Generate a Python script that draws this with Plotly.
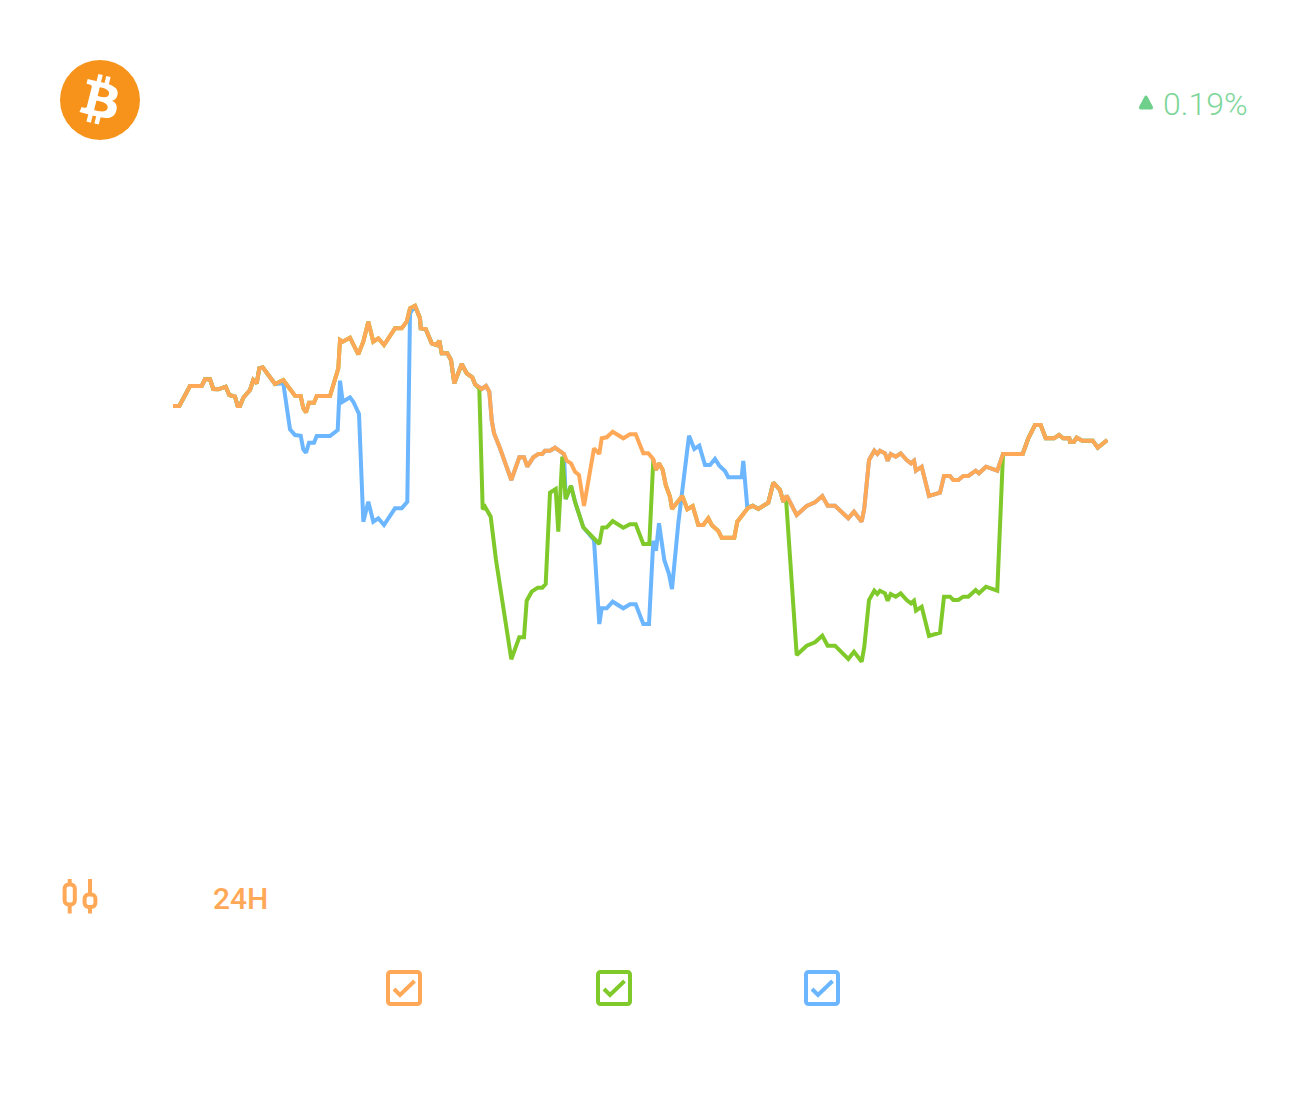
import re
import plotly.graph_objects as go

W, H = 1308, 1094

# Values: sample position along the day and index level
orange_x = [0,6.3,17,28.7,32,37,40.3,45.3,52.7,56.3,62,64.7,67,70.3,77,80.3,83.7,86.3,89.7,102,110.3,122,127.7,130.3,133,136,141,143.7,157,165.3,167,169.7,177,185.3,190.3,195.3,200.3,205.3,211,222,228.7,233.7,237,242,247,247.7,252.7,258.7,263.7,266.3,268.7,274.3,278,281.3,288.7,293.7,299.3,302,308.7,313,316.3,318.7,321,327,338.3,346.3,351,354.3,360.3,365.3,369.3,372,377,382,391,393.7,398,402,406,411,421,426.3,428.7,433.7,439.7,450.3,457,462.7,470.3,475.3,480.3,483,486,489.7,492.7,497,499,509.3,514.3,519.7,525.3,530.3,535.3,538.7,545.3,548.7,561.3,564.3,574.7,579.7,585.3,595.3,600.3,607,610.3,613.7,623.7,633.7,642,649.3,654.7,662,675.3,681,688.7,691.3,696,701.3,704.3,707,712,714.7,717.7,722.7,727.7,733.7,738,741,743,748.7,756,767,771,777,780.3,785.3,790.3,795.3,802.7,806,813,824.3,830,849.7,855.3,862,867.7,872.7,881,886,890.3,896.3,897,901,903.7,909.3,919.7,924.7,934.3]
orange_v = [294,294,314,314,320.7,320.7,311,310.7,313.3,305,303.3,294,294,302.3,310,320,316.7,331.7,332.7,316,320,304.3,304,291.7,287.7,297.3,297.3,304,304,331.7,360,358.3,362.3,345.7,358.3,378.3,358.3,361.7,355,371.7,371.7,378.3,391.7,394.3,381.7,371.7,371,356.7,355,359.3,346.7,346.7,340,316.7,336,326.7,322.7,315.7,311,314,308.3,280,266.7,251.7,220,242.7,242.7,233.3,242.7,246,246,249.3,249.3,252.3,246,239.3,236.7,228.3,225,194,251.7,246,261.7,262.7,268.3,261.7,265.7,265.7,246.7,246.7,240.7,230,236.7,230,215,203.3,191,204,190.7,194,175,175,181.7,175,169,162.3,162.3,178.3,191.7,194.3,191,197.3,217.3,210,198.3,204.3,185,194,197.7,204,194.3,194.3,181.7,188.3,178.3,191.7,240,249.3,246,249.3,246.7,239.3,246,243.3,246.7,240,236.7,239.3,229.3,233.3,204,207.3,224,224,220,220,224,224,229.3,226.7,233.3,229.3,246,246,261.7,275,275,261.7,261.7,265,261.7,261.7,258.3,258.3,262.3,259.3,259.3,252.3,260]

green_low1_x = [306.3,309.7,312,317.7,323,338.3,346.3,351,353.7,358.7,364.7,369.3,372.7,377,382.7,385.3,389.3,392.7,398,402,410.3,426.3,429.3,433.7,439.7,450.3,457,462.7,470.3,476.3,480.3]
green_low1_v = [311,190.7,193.3,183.3,140,40.7,62.7,62.7,99.3,108.3,112.3,112.3,116,207.3,211,168.3,243.3,201,214.3,198.3,172.7,156,172.3,172.7,179,172.3,175.7,175.7,156,156,240]
green_low2_x = [613,623.7,633.7,642,649.3,654.7,662,675.3,681,688.7,691.3,696,701.3,704.3,707,712,714.7,717.7,722.7,727.7,733.7,738,741,743,748.7,756,767,771,777,780.3,785.3,790.3,795.3,802.7,806,813,824.3]
green_low2_v = [201.7,45,54.3,57.7,64.3,54.3,54.3,41,48.3,38.3,53.3,100,109.3,106,109.3,106.7,99.3,106,103.3,106.7,100,96.7,99.3,89.3,93.3,64,67.3,103.3,103.3,100,100,103.3,103.3,110,106.7,113.3,109.3]

blue_low1_x = [110.3,117,122,127.7,130.3,133,136,141,143.7,157,164.7,167,169.7,177,180.3,186,190.3,195.3,200.3,205.3,211,222,228.7,234.3,237]
blue_low1_v = [316.7,270.7,265,264.3,250.7,247.3,257.3,257.3,264,264,270,319.3,298.3,302.7,298.3,286,178.3,198.3,178.3,181.7,175,191.7,191.7,198.3,386.7]
blue_low2_x = [421,426.3,428.7,433.7,439.7,450.3,457,462.7,470.3,476,480.3,483,486,491.3,496,499,505.3,516,521.3,526.3,532,537,542,546.3,552,555.3,568.7,570.3,574.3]
blue_low2_v = [160,76,91.7,91.7,98.3,91.7,95.7,95.7,76,76,159.3,149.3,176.7,140,126,111,176.7,264.3,251,254.3,235,235,241,234.3,229,222.7,222.7,239,192.7]

ORANGE, GREEN, BLUE = "#FFA958", "#7FC92A", "#6BB6FF"
CHANGE_COLOR, ARROW_COLOR = "#7ED69A", "#6FD08C"


def part(xs, vs, lo, hi):
    kept = [(x, v) for x, v in zip(xs, vs) if lo <= x <= hi]
    return [k[0] for k in kept], [k[1] for k in kept]


def join(*parts):
    out_x, out_v = [], []
    for xs, vs in parts:
        out_x += list(xs)
        out_v += list(vs)
    return out_x, out_v


inf = 1e9
green_x, green_v = join(
    part(orange_x, orange_v, -inf, 302),
    (green_low1_x, green_low1_v),
    part(orange_x, orange_v, 482, 610.5),
    (green_low2_x, green_low2_v),
    part(orange_x, orange_v, 830, inf),
)
blue_x, blue_v = join(
    part(orange_x, orange_v, -inf, 102),
    (blue_low1_x, blue_low1_v),
    part(orange_x, orange_v, 242, 391),
    part(green_x, green_v, 392, 411),
    (blue_low2_x, blue_low2_v),
    part(orange_x, orange_v, 579, inf),
)


def px(x):
    return x / W


def py(y):
    return 1 - y / H


def P(x, y):
    return f"{px(x):.5f},{py(y):.5f}"


def abs_path(d, scale, ox, oy):
    toks = re.findall(r"[A-Za-z]|-?\d*\.?\d+", d)
    i, cx, cy, sx, sy, out = 0, 0.0, 0.0, 0.0, 0.0, []

    def T(a, b):
        return P(ox + a * scale, oy + b * scale)

    cmd = None
    while i < len(toks):
        if toks[i].isalpha():
            cmd = toks[i]
            i += 1
            if cmd in "zZ":
                out.append("Z")
                cx, cy = sx, sy
                continue
        rel = cmd.islower()
        c = cmd.upper()
        n = {"M": 2, "L": 2, "H": 1, "V": 1, "C": 6, "S": 4}[c]
        a = [float(t) for t in toks[i:i + n]]
        i += n
        if c == "H":
            cx = cx + a[0] if rel else a[0]
            out.append("L" + T(cx, cy))
        elif c == "V":
            cy = cy + a[0] if rel else a[0]
            out.append("L" + T(cx, cy))
        else:
            pts = []
            for k in range(0, n, 2):
                pts.append((a[k] + cx, a[k + 1] + cy) if rel else (a[k], a[k + 1]))
            out.append(c + " ".join(T(*p) for p in pts))
            cx, cy = pts[-1]
            if c == "M":
                sx, sy = cx, cy
                cmd = "l" if rel else "L"
    return " ".join(out)


BTC = ("M46.11 27.441c.636-4.258-2.606-6.547-7.039-8.074l1.438-5.768-3.512-.875-1.4 5.616c-.922-.23-1.87-.447-2.812-.662"
       "l1.41-5.653-3.509-.875-1.439 5.766c-.764-.174-1.514-.346-2.242-.527l.004-.018-4.842-1.209-.934 3.75s2.605.597 2.55.634"
       "c1.422.355 1.68 1.296 1.636 2.042l-1.638 6.571c.098.025.225.061.365.117l-.371-.092-2.296 9.205c-.174.432-.615 1.08-1.609.834"
       ".035.051-2.552-.637-2.552-.637l-1.743 4.019 4.569 1.139c.85.213 1.683.436 2.503.646l-1.453 5.834 3.507.875 1.439-5.772"
       "c.958.26 1.888.5 2.798.726l-1.434 5.745 3.511.875 1.453-5.823c5.987 1.133 10.489.676 12.384-4.739 1.527-4.36-.076-6.875-3.226-8.515"
       " 2.294-.529 4.022-2.038 4.483-5.155zM38.087 38.69c-1.085 4.36-8.426 2.003-10.806 1.412l1.928-7.729c2.38.594 10.012 1.77 8.878 6.317z"
       "m1.086-11.312c-.99 3.966-7.1 1.951-9.082 1.457l1.748-7.01c1.982.494 8.365 1.416 7.334 5.553z")


def rrect(x0, y0, x1, y1, r):
    k = r * 0.45
    return (f"M{P(x0 + r, y0)} L{P(x1 - r, y0)} C{P(x1 - k, y0)} {P(x1, y0 + k)} {P(x1, y0 + r)} "
            f"L{P(x1, y1 - r)} C{P(x1, y1 - k)} {P(x1 - k, y1)} {P(x1 - r, y1)} "
            f"L{P(x0 + r, y1)} C{P(x0 + k, y1)} {P(x0, y1 - k)} {P(x0, y1 - r)} "
            f"L{P(x0, y0 + r)} C{P(x0, y0 + k)} {P(x0 + k, y0)} {P(x0 + r, y0)} Z")


def shape(path, fill=None, color=None, width=0):
    d = dict(type="path", xref="paper", yref="paper", path=path, layer="above",
             line=dict(width=width, color=color or "rgba(0,0,0,0)"))
    if fill:
        d["fillcolor"] = fill
    return d


shapes = [
    dict(type="circle", xref="paper", yref="paper", x0=px(60), x1=px(140), y0=py(140), y1=py(60),
         fillcolor="#F7931A", line=dict(width=0), layer="above"),
    shape(abs_path(BTC, 1.25, 60, 60), fill="#FFFFFF"),
    shape(f"M{P(1146, 95.5)} Q{P(1147, 95.5)} {P(1147.6, 96.8)} L{P(1152.8, 106.5)} Q{P(1153.7, 109.5)} {P(1151, 109.5)} "
          f"L{P(1141, 109.5)} Q{P(1138.3, 109.5)} {P(1139.2, 106.5)} L{P(1144.4, 96.8)} Q{P(1145, 95.5)} {P(1146, 95.5)} Z",
          fill=ARROW_COLOR),
    shape(f"M{P(69.7, 879)} L{P(69.7, 913.5)}", color=ORANGE, width=4),
    shape(f"M{P(90, 879)} L{P(90, 913.5)}", color=ORANGE, width=4),
    shape(rrect(64.6, 884.5, 74.8, 904.5, 4), fill="#FFFFFF", color=ORANGE, width=4),
    shape(rrect(84.6, 894.5, 95.4, 907, 4), fill="#FFFFFF", color=ORANGE, width=4),
]
for off, col in ((0, ORANGE), (210, GREEN), (418, BLUE)):
    shapes.append(shape(rrect(388 + off, 972, 420 + off, 1004, 2.5), fill="#FFFFFF", color=col, width=4))
    shapes.append(shape(f"M{P(394 + off, 989)} L{P(400 + off, 995)} L{P(414.5 + off, 981)}", color=col, width=4))

fig = go.Figure()
for name, xs, vs, col in (("blue", blue_x, blue_v, BLUE), ("green", green_x, green_v, GREEN),
                          ("orange", orange_x, orange_v, ORANGE)):
    fig.add_trace(go.Scatter(x=xs, y=vs, name=name, mode="lines", cliponaxis=False,
                             line=dict(color=col, width=4, shape="linear"), hoverinfo="skip"))

fig.update_layout(
    width=W, height=H, margin=dict(l=0, r=0, t=0, b=0), showlegend=False,
    paper_bgcolor="#FFFFFF", plot_bgcolor="#FFFFFF",
    xaxis=dict(domain=[px(173), px(1108)], range=[0, 935], visible=False),
    yaxis=dict(domain=[py(700), py(300)], range=[0, 400], visible=False),
    shapes=shapes,
    annotations=[
        dict(text="0.19%", xref="paper", yref="paper", x=px(1160.5), y=py(103.5), xanchor="left", yanchor="middle",
             showarrow=False, font=dict(family="Roboto", size=32, color=CHANGE_COLOR, weight=300)),
        dict(text="24H", xref="paper", yref="paper", x=px(210.5), y=py(898), xanchor="left", yanchor="middle",
             showarrow=False, font=dict(family="Roboto", size=30, color=ORANGE, weight=500)),
    ],
)
fig.write_html("out.html", post_script="document.body.style.margin='0';", config={"displayModeBar": False})
